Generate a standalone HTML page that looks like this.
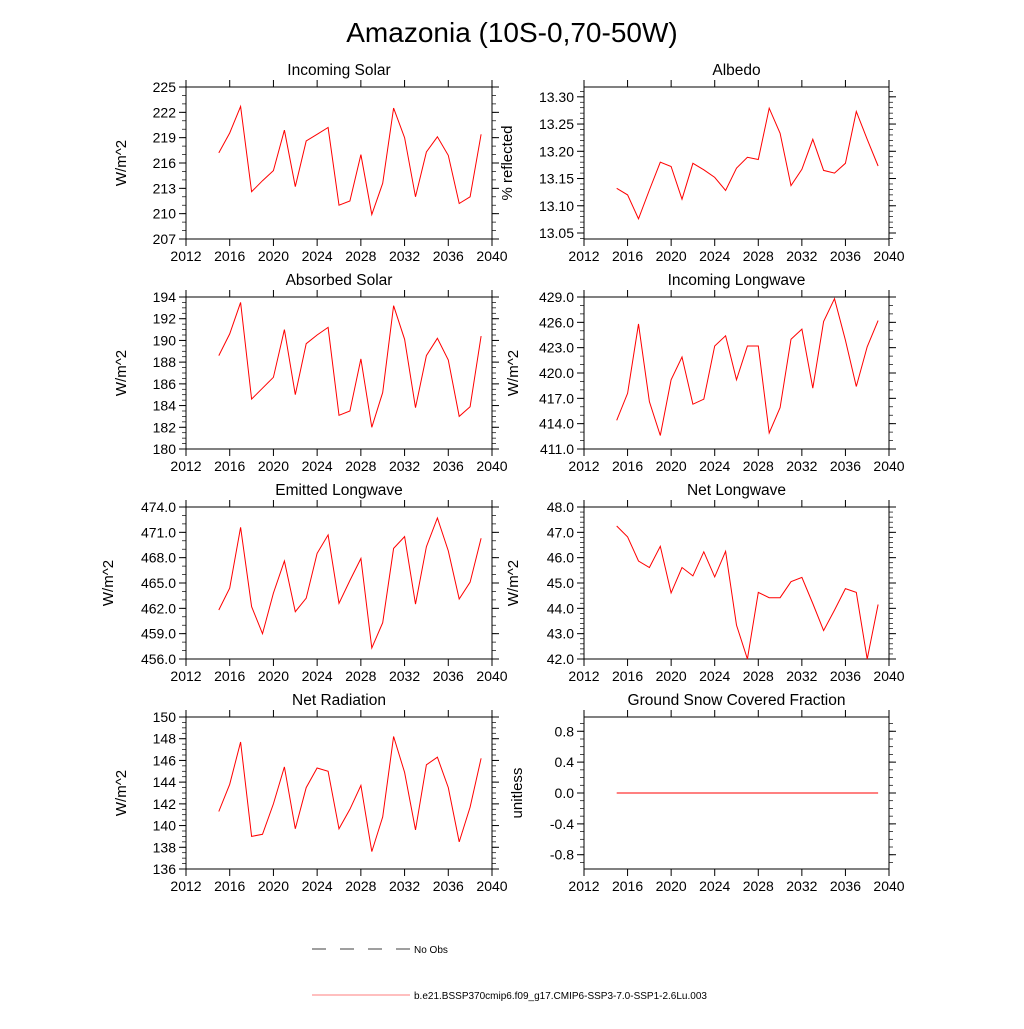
<!DOCTYPE html>
<html><head><meta charset="utf-8"><style>
html,body{margin:0;padding:0;background:#fff;}
svg text{font-family:"Liberation Sans",sans-serif;fill:#000;}
</style></head><body>
<svg id="chart" width="1024" height="1024" xmlns="http://www.w3.org/2000/svg">
<text x="512" y="42" font-size="28" text-anchor="middle">Amazonia (10S-0,70-50W)</text>
<g id="panels"></g>
<g>
<line x1="312" y1="949" x2="410" y2="949" stroke="#000" stroke-width="0.8" stroke-dasharray="14,14"/>
<text x="414" y="953" font-size="10">No Obs</text>
<line x1="312" y1="995" x2="410" y2="995" stroke="#f00" stroke-width="0.6"/>
<text x="414" y="999" font-size="10">b.e21.BSSP370cmip6.f09_g17.CMIP6-SSP3-7.0-SSP1-2.6Lu.003</text>
</g>
</svg>
<script>
const years = [2015,2016,2017,2018,2019,2020,2021,2022,2023,2024,2025,2026,2027,2028,2029,2030,2031,2032,2033,2034,2035,2036,2037,2038,2039];
const xTicks = [2012,2016,2020,2024,2028,2032,2036,2040];
const incomingSolar = [217.2,219.55,222.7,212.6,213.9,215.1,219.9,213.2,218.6,219.4,220.2,211.0,211.5,217.0,209.9,213.6,222.5,219.0,212.0,217.3,219.1,216.9,211.2,212.0,219.4];
const albedo = [13.132,13.120,13.076,13.129,13.180,13.172,13.112,13.178,13.166,13.152,13.128,13.169,13.189,13.185,13.279,13.233,13.137,13.167,13.222,13.165,13.160,13.178,13.273,13.222,13.173];
const absorbedSolar = [188.6,190.6,193.5,184.6,185.6,186.6,191.0,185.0,189.7,190.5,191.2,183.1,183.5,188.3,182.0,185.2,193.2,190.1,183.8,188.6,190.2,188.2,183.0,183.9,190.4];
const incomingLW = [414.4,417.6,425.8,416.6,412.6,419.2,421.9,416.3,416.9,423.2,424.4,419.2,423.2,423.2,412.9,415.9,424.0,425.2,418.2,426.1,428.8,423.9,418.4,423.1,426.2];
const emittedLW = [461.8,464.4,471.6,462.2,459.0,463.8,467.6,461.6,463.2,468.5,470.7,462.6,465.3,467.9,457.3,460.3,469.1,470.5,462.5,469.3,472.7,468.8,463.1,465.1,470.3];
const netLW = [47.25,46.82,45.87,45.61,46.45,44.61,45.61,45.28,46.23,45.24,46.25,43.34,42.0,44.63,44.42,44.42,45.05,45.22,44.19,43.12,43.93,44.78,44.63,42.0,44.15];
const netRad = [141.3,143.8,147.7,139.0,139.2,142.0,145.4,139.7,143.5,145.3,145.0,139.7,141.5,143.7,137.6,140.8,148.2,144.9,139.6,145.6,146.3,143.5,138.5,141.7,146.2];
const snowFrac = [0,0,0,0,0,0,0,0,0,0,0,0,0,0,0,0,0,0,0,0,0,0,0,0,0];
const tickSolar = ["207","210","213","216","219","222","225"];
const tickAlbedo = ["13.05","13.10","13.15","13.20","13.25","13.30"];
const tickAbs = ["180","182","184","186","188","190","192","194"];
const tickILW = ["411.0","414.0","417.0","420.0","423.0","426.0","429.0"];
const tickELW = ["456.0","459.0","462.0","465.0","468.0","471.0","474.0"];
const tickNLW = ["42.0","43.0","44.0","45.0","46.0","47.0","48.0"];
const tickNR = ["136","138","140","142","144","146","148","150"];
const tickSnow = ["-0.8","-0.4","0.0","0.4","0.8"];

const NS="http://www.w3.org/2000/svg";
const root=document.getElementById('panels');
function mk(tag,attrs,parent){const e=document.createElementNS(NS,tag);for(const k in attrs)e.setAttribute(k,attrs[k]);parent.appendChild(e);return e;}

const panels=[
 {id:'incoming-solar',title:'Incoming Solar',yl:'W/m^2',data:incomingSolar,ticks:tickSolar,min:207,max:225,minor:1,x0:186,x1:492,y0:87,y1:239,ylx:126},
 {id:'albedo',title:'Albedo',yl:'% reflected',data:albedo,ticks:tickAlbedo,min:13.039,max:13.318,minor:0.01,x0:584,x1:889,y0:87,y1:239,ylx:512},
 {id:'absorbed-solar',title:'Absorbed Solar',yl:'W/m^2',data:absorbedSolar,ticks:tickAbs,min:180,max:194,minor:0.5,x0:186,x1:492,y0:297,y1:449,ylx:126},
 {id:'incoming-longwave',title:'Incoming Longwave',yl:'W/m^2',data:incomingLW,ticks:tickILW,min:411,max:429,minor:1,x0:584,x1:889,y0:297,y1:449,ylx:518},
 {id:'emitted-longwave',title:'Emitted Longwave',yl:'W/m^2',data:emittedLW,ticks:tickELW,min:456,max:474,minor:1,x0:186,x1:492,y0:507,y1:659,ylx:113},
 {id:'net-longwave',title:'Net Longwave',yl:'W/m^2',data:netLW,ticks:tickNLW,min:42,max:48,minor:0.2,x0:584,x1:889,y0:507,y1:659,ylx:518},
 {id:'net-radiation',title:'Net Radiation',yl:'W/m^2',data:netRad,ticks:tickNR,min:136,max:150,minor:0.5,x0:186,x1:492,y0:717,y1:869,ylx:126},
 {id:'snow-fraction',title:'Ground Snow Covered Fraction',yl:'unitless',data:snowFrac,ticks:tickSnow,min:-0.985,max:0.985,minor:0.1,x0:584,x1:889,y0:717,y1:869,ylx:522}
];

panels.forEach(p=>{
 const g=mk('g',{},root);
 
 
 const xs=v=>p.x0+(v-2012)/(2040-2012)*(p.x1-p.x0);
 const ys=v=>p.y1-(v-p.min)/(p.max-p.min)*(p.y1-p.y0);
 const t=mk('text',{x:(p.x0+p.x1)/2,y:p.y0-12,'font-size':15.5,'text-anchor':'middle'},g);
 t.textContent=p.title;
 
 
 const fr=mk('rect',{x:p.x0,y:p.y0,width:p.x1-p.x0,height:p.y1-p.y0,fill:'none',stroke:'#000','stroke-width':1},g);
 
 
 xTicks.forEach(v=>{
  const x=xs(v);
  mk('line',{x1:x,y1:p.y1,x2:x,y2:p.y1+7,stroke:'#000'},g);
  mk('line',{x1:x,y1:p.y0,x2:x,y2:p.y0-7,stroke:'#000'},g);
  const l=mk('text',{x:x,y:p.y1+22,'font-size':14,'text-anchor':'middle'},g);
  l.textContent=v;
  
  
 });
 const n=Math.round((p.max-p.min)/p.minor)+2;
 const start=Math.ceil(p.min/p.minor-1e-6)*p.minor;
 for(let i=0;i<n;i++){const v=start+i*p.minor;if(v>p.max+1e-9)break;const y=ys(v);
  mk('line',{x1:p.x0,y1:y,x2:p.x0-4,y2:y,stroke:'#000','stroke-width':0.7},g);
  mk('line',{x1:p.x1,y1:y,x2:p.x1+4,y2:y,stroke:'#000','stroke-width':0.7},g);}
 p.ticks.forEach(s=>{
  const v=parseFloat(s);const y=ys(v);
  mk('line',{x1:p.x0,y1:y,x2:p.x0-7,y2:y,stroke:'#000'},g);
  mk('line',{x1:p.x1,y1:y,x2:p.x1+7,y2:y,stroke:'#000'},g);
  const l=mk('text',{x:p.x0-10,y:y+5,'font-size':14,'text-anchor':'end'},g);
  l.textContent=s;
  
  
 });
 const cy=(p.y0+p.y1)/2;
 const yl=mk('text',{x:p.ylx,y:cy,'font-size':15,'text-anchor':'middle',transform:`rotate(-90 ${p.ylx} ${cy})`},g);
 yl.textContent=p.yl;
 
 
 const pts=p.data.map((v,i)=>xs(years[i]).toFixed(1)+','+ys(v).toFixed(1)).join(' ');
 const pl=mk('polyline',{points:pts,fill:'none',stroke:'#f00','stroke-width':1},g);
 
 
});
</script>
</body></html>
